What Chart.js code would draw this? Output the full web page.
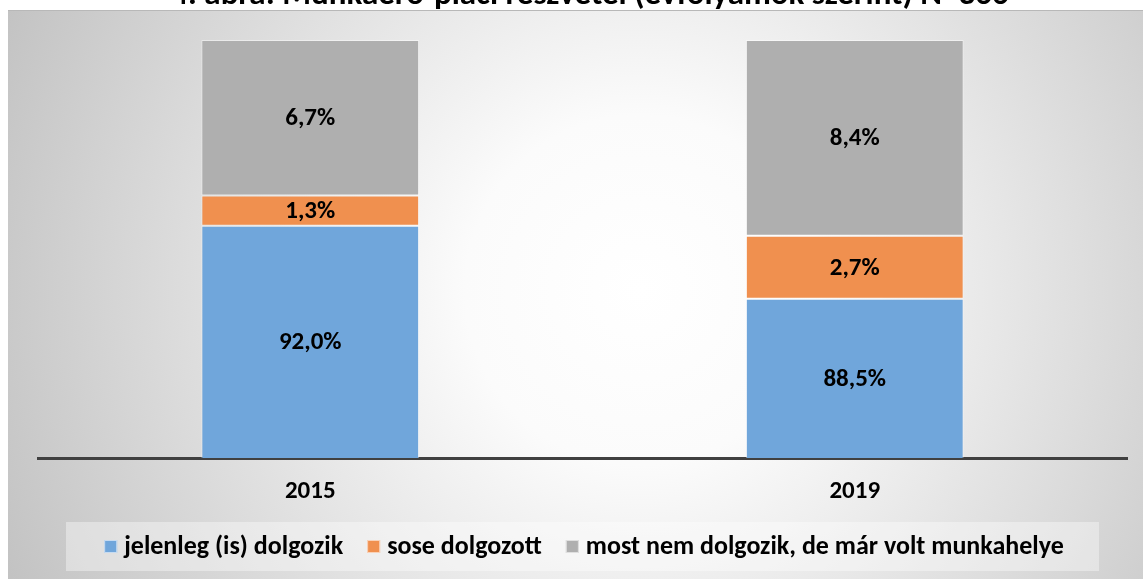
<!DOCTYPE html>
<html lang="hu">
<head>
<meta charset="utf-8">
<title>Munkaerő-piaci részvétel</title>
<script src="https://cdn.jsdelivr.net/npm/chart.js@4"></script>
<style>
  html, body { margin: 0; padding: 0; background: #fff; overflow: hidden; }
  #doboz { position: relative; width: 1143px; height: 579px; }
</style>
</head>
<body>
<div id="doboz"><canvas id="grafikon"></canvas></div>
<script>
// --- ADATOK ---
const evek = ['2015', '2019'];
const dolgozik = [92.0, 88.5];
const soseDolgozott = [1.3, 2.7];
const voltMunkahelye = [6.7, 8.4];
const sorozatNevek = ['jelenleg (is) dolgozik', 'sose dolgozott', 'most nem dolgozik, de már volt munkahelye'];
const szinek = ['#70a6db', '#f0904f', '#afafaf'];
const yTartomany = [82, 100];
const cim = '4. ábra: Munkaerő-piaci részvétel (évfolyamok szerint) N=366';

const BETU = 'Carlito, Lato, "Open Sans", sans-serif';

// 100%-os halmozás: minden évet a saját összegére vetítünk
const osszegek = evek.map((_, i) => dolgozik[i] + soseDolgozott[i] + voltMunkahelye[i]);
const sorozatok = [dolgozik, soseDolgozott, voltMunkahelye];

function szazalek(v) {
    return v.toFixed(1).replace('.', ',') + '%';
}

// --- HÁTTÉR, CÍM, JELMAGYARÁZAT ---
const hatter = {
    id: 'hatter',
    beforeDraw(chart) {
        const ctx = chart.ctx;
        ctx.save();
        ctx.fillStyle = '#ffffff';
        ctx.fillRect(0, 0, chart.width, chart.height);
        const g = ctx.createRadialGradient(640, 290, 0, 640, 290, 700);
        g.addColorStop(0, '#ffffff');
        g.addColorStop(0.25, '#fbfbfb');
        g.addColorStop(1, '#c2c2c2');
        ctx.fillStyle = g;
        ctx.fillRect(8, 10, chart.width - 8, chart.height - 10);
        ctx.fillStyle = '#b8b8b8';
        ctx.fillRect(8, 10, chart.width - 8, 1);
        // jelmagyarázat doboza
        ctx.fillStyle = 'rgba(255,255,255,0.38)';
        ctx.fillRect(66, 522, 1033, 49);
        ctx.restore();
    },
    afterDraw(chart) {
        const ctx = chart.ctx;
        ctx.save();
        ctx.fillStyle = '#000';
        ctx.textAlign = 'center';
        ctx.textBaseline = 'alphabetic';
        ctx.font = 'bold 33px ' + BETU;
        ctx.fillText(cim, 590, 4);

        // jelmagyarázat
        ctx.font = 'bold 26px ' + BETU;
        ctx.textAlign = 'left';
        ctx.textBaseline = 'middle';
        const elemek = chart.data.datasets.map(ds => ({
            nev: ds.label, szin: ds.backgroundColor, w: ctx.measureText(ds.label).width
        }));
        const teljes = elemek.reduce((s, e) => s + 13 + 7 + e.w, 0) + 24 * (elemek.length - 1);
        let x = 584 - teljes / 2;
        const y = 546;
        elemek.forEach(e => {
            ctx.fillStyle = e.szin;
            ctx.fillRect(x, y - 6, 13, 13);
            ctx.strokeStyle = 'rgba(255,255,255,0.6)';
            ctx.lineWidth = 1;
            ctx.strokeRect(x + 0.5, y - 5.5, 12, 12);
            ctx.fillStyle = '#000';
            ctx.fillText(e.nev, x + 20, y + 1);
            x += 20 + e.w + 24;
        });
        ctx.restore();
    }
};

// oszlopcímkék a látható szakasz közepére
const cimkek = {
    id: 'cimkek',
    afterDatasetsDraw(chart) {
        const ctx = chart.ctx;
        const ca = chart.chartArea;
        ctx.save();
        ctx.font = 'bold 25px ' + BETU;
        ctx.fillStyle = '#000';
        ctx.textAlign = 'center';
        ctx.textBaseline = 'middle';
        chart.data.datasets.forEach((ds, di) => {
            chart.getDatasetMeta(di).data.forEach((el, i) => {
                const also = Math.min(el.base, ca.bottom);
                const felso = Math.max(el.y, ca.top);
                ctx.fillText(szazalek(ds.ertekek[i]), el.x, (also + felso) / 2 + 1);
            });
        });
        ctx.restore();
    }
};

const ctx = document.getElementById('grafikon').getContext('2d');
new Chart(ctx, {
    type: 'bar',
    data: {
        labels: evek,
        datasets: sorozatok.map((s, k) => ({
            label: sorozatNevek[k],
            data: s.map((v, i) => v / osszegek[i] * 100),
            ertekek: s,
            backgroundColor: szinek[k],
            borderColor: 'rgba(255,255,255,0.45)',
            borderWidth: 1,
            borderSkipped: false,
            barPercentage: 0.4,
            categoryPercentage: 1
        }))
    },
    options: {
        responsive: true,
        maintainAspectRatio: false,
        animation: false,
        layout: { padding: { top: 40, left: 38, right: 16, bottom: 61 } },
        plugins: {
            legend: { display: false },
            tooltip: { enabled: false }
        },
        scales: {
            x: {
                stacked: true,
                grid: { display: false, drawTicks: false },
                border: { display: true, color: '#404040', width: 3 },
                ticks: { color: '#000', font: { family: BETU, size: 25, weight: 'bold' }, padding: 19 },
                afterFit: s => { s.height = 60; }
            },
            y: {
                stacked: true,
                display: false,
                min: yTartomany[0],
                max: yTartomany[1]
            }
        }
    },
    plugins: [hatter, cimkek]
});
</script>
</body>
</html>
